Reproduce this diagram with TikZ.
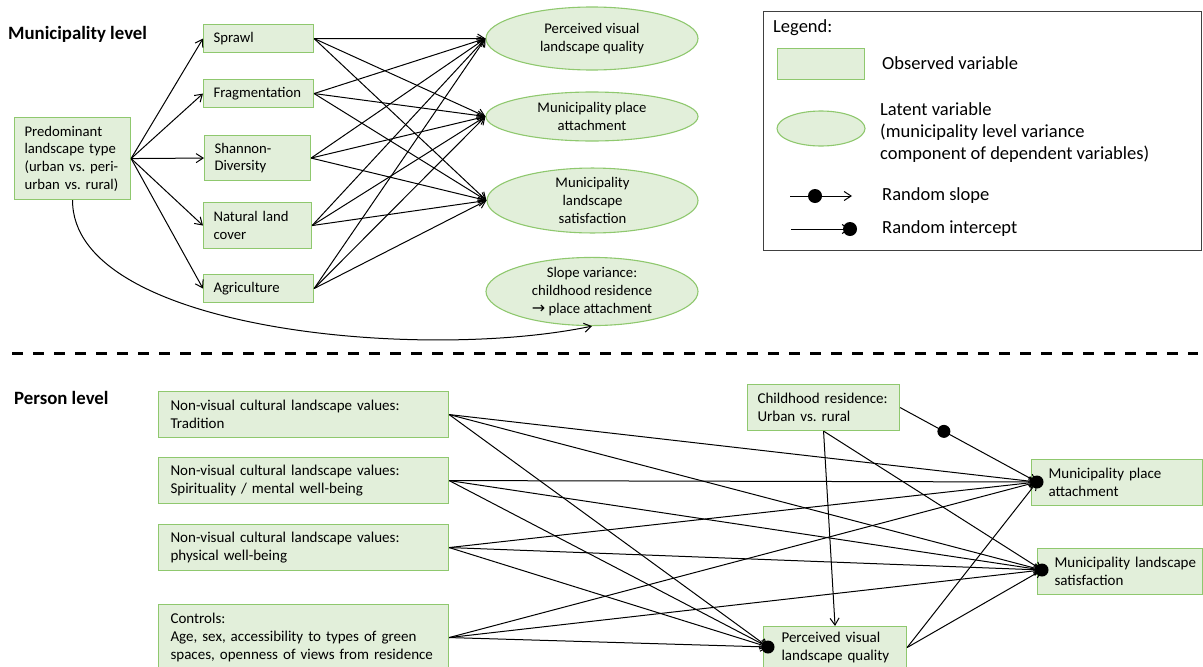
\documentclass[tikz,border=0pt]{standalone}
\usepackage{fontspec}
\setmainfont{Carlito}
\newfontfamily\dejavu{DejaVu Sans}
\usetikzlibrary{arrows.meta,shapes.geometric,calc}
\hyphenpenalty=10000 \exhyphenpenalty=10000
\frenchspacing
\definecolor{gfill}{HTML}{E2EFDA}
\definecolor{gedge}{HTML}{8FC86E}
\definecolor{lgedge}{HTML}{404040}
\begin{document}
\begin{tikzpicture}[x=1pt,y=-1pt,
  obs/.style={draw=gedge, fill=gfill, line width=1.1pt, anchor=north west, inner ysep=0pt, align=left, font=\fontsize{14.7}{17.6}\selectfont\frenchspacing},
  pobs/.style={obs, font=\fontsize{15}{18}\selectfont\frenchspacing},
  lat/.style={ellipse, draw=gedge, fill=gfill, line width=1.1pt, inner sep=0pt, align=center, font=\fontsize{14.7}{17.8}\selectfont},
  arr/.style={-{Straight Barb[length=7pt,width=9pt]}, line width=1pt},
  dot/.style={circle, fill=black, inner sep=0pt, minimum size=13pt},
  head/.style={anchor=west, inner sep=0pt, font=\fontsize{18.8}{22}\selectfont\bfseries},
  lgtext/.style={anchor=west, inner sep=0pt, align=left, font=\fontsize{18.5}{22}\selectfont}]
\useasboundingbox (0,0) rectangle (1203,667);

% ---------- Municipality level ----------
\node[head] (mhead) at (8,34) {Municipality level};

\node[obs, inner xsep=10pt, text width=96pt, minimum height=82pt] (pred) at (14,117) {Predominant\\landscape~type\\(urban~vs.~peri-\\urban~vs.~rural)};
\node[obs, inner xsep=10pt, text width=90pt, minimum height=28pt] (sprawl) at (203,24) {Sprawl};
\node[obs, inner xsep=10pt, text width=90pt, minimum height=28pt] (frag) at (203,79) {Fragmentation};
\node[obs, inner xsep=10pt, text width=86pt, minimum height=45pt] (shannon) at (204,135) {Shannon-\\Diversity};
\node[obs, inner xsep=10pt, text width=88pt, minimum height=46pt] (natural) at (203,202) {Natural~land\\cover};
\node[obs, inner xsep=10pt, text width=90pt, minimum height=28pt] (agri) at (203,274) {Agriculture};

\node[lat, minimum width=212pt, minimum height=63pt] (e1) at (592,38.5) {Perceived visual\\landscape quality};
\node[lat, minimum width=212pt, minimum height=49pt] (e2) at (592,116.5) {Municipality place\\attachment};
\node[lat, minimum width=211pt, minimum height=58pt] (e3) at (592.5,200.5) {Municipality\\landscape\\satisfaction};
\node[lat, minimum width=212pt, minimum height=63pt] (e4) at (592,291.5) {Slope variance:\\childhood residence\\{\dejavu\fontsize{16}{16}\selectfont →} place attachment};

\foreach \b in {sprawl,frag,shannon,natural,agri}
  \draw[arr] (pred.east) -- (\b.west);
\foreach \b in {sprawl,frag,shannon,natural,agri}
  \foreach \e in {e1,e2,e3}
    \draw[arr] (\b.east) -- (\e.west);
\draw[arr] (pred.south) .. controls (72,330) and (420,362) .. (e4.south);

% ---------- separator ----------
\coordinate (sepL) at (12,353);
\coordinate (sepR) at (1198,353);
\draw[line width=3pt, dash pattern=on 11pt off 10pt] (sepL) -- (sepR);

% ---------- Legend ----------
\node[draw=lgedge, line width=1.2pt, anchor=north west, minimum width=438pt, minimum height=239pt, inner sep=0pt] (legend) at (763,11) {};
\node[lgtext] (lgtitle) at (773,28) {Legend:};
\node[obs, minimum width=87pt, minimum height=31pt, inner sep=0pt] (lgbox) at (777,48) {};
\node[lgtext] (lgobs) at (882,63) {Observed variable};
\node[lat, minimum width=88pt, minimum height=35pt] (lgell) at (821,128.5) {};
\node[lgtext] (lglat) at (880,133) {Latent variable\\(municipality level variance\\component of dependent variables)};
\coordinate (rs1) at (790,196);
\coordinate (rs2) at (852,196);
\draw[arr] (rs1) -- (rs2);
\node[dot, minimum size=14pt] (rsdot) at (815,196) {};
\node[lgtext] (lgrs) at (882,196) {Random slope};
\coordinate (ri1) at (791,229);
\coordinate (ri2) at (850,229);
\draw[arr] (ri1) -- (ri2);
\node[dot, minimum size=14pt] (ridot) at (ri2) {};
\node[lgtext] (lgri) at (882,229) {Random intercept};

% ---------- Person level ----------
\node[head] (phead) at (14,398) {Person level};

\node[pobs, inner xsep=12pt, text width=266pt, minimum height=46pt] (trad) at (158,391) {Non-visual cultural landscape values:\\Tradition};
\node[pobs, inner xsep=12pt, text width=266pt, minimum height=46pt] (spir) at (158,457) {Non-visual cultural landscape values:\\Spirituality / mental well-being};
\node[pobs, inner xsep=12pt, text width=266pt, minimum height=46pt] (phys) at (158,524) {Non-visual cultural landscape values:\\physical well-being};
\node[pobs, inner xsep=12pt, text width=266pt, minimum height=66pt] (ctrl) at (158,604) {Controls:\\Age, sex, accessibility to types of green\\spaces, openness of views from residence};
\node[pobs, inner xsep=10pt, text width=132pt, minimum height=46pt] (child) at (747,384) {Childhood~residence:\\Urban vs. rural};
\node[pobs, inner xsep=17pt, text width=137pt, minimum height=46pt] (pa) at (1031,459) {Municipality~place\\attachment};
\node[pobs, inner xsep=17pt, text width=131pt, minimum height=46pt] (sat) at (1037,548) {Municipality~landscape\\satisfaction};
\node[pobs, inner xsep=18pt, text width=107pt, minimum height=42pt] (pv) at (763,626) {Perceived~visual\\landscape~quality};

\coordinate (padot) at (1037,482);
\coordinate (satdot) at (1042,570);
\coordinate (pvdot) at (768,647);

\foreach \s in {trad,spir,phys,ctrl}
  \foreach \t in {padot,satdot,pvdot}
    \draw[arr] (\s.east) -- (\t);
\draw[arr] (child.east) -- (padot);
\draw[arr] (child.south) -- (pv.north);
\draw[arr] (child.south) -- (satdot);
\draw[arr] (pv.east) -- (padot);
\draw[arr] (pv.east) -- (satdot);

\node[dot] (padotn) at (padot) {};
\node[dot] (satdotn) at (satdot) {};
\node[dot] (pvdotn) at (pvdot) {};
\node[dot] (slopedot) at ($(child.east)!0.32!(padot)$) {};
\end{tikzpicture}
\end{document}
